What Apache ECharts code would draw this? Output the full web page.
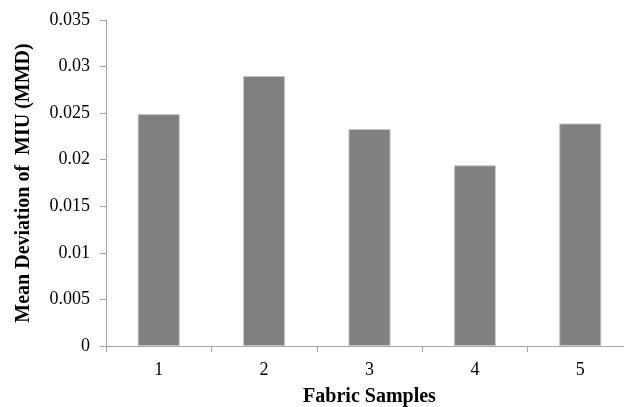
<!DOCTYPE html>
<html><head><meta charset="utf-8">
<script src="https://cdn.jsdelivr.net/npm/echarts@6/dist/echarts.min.js"></script>
<style>html,body{margin:0;padding:0;background:#fff}#c{width:624px;height:407px}</style>
</head><body><div id="c"></div>
<script>
const categories = ['1', '2', '3', '4', '5'];
const values = [0.0249, 0.0290, 0.0233, 0.0194, 0.0239];
const xTitle = 'Fabric Samples';
const yTitle = 'Mean Deviation of  MIU (MMD)';

const font = 'Liberation Serif, Times New Roman, serif';
const chart = echarts.init(document.getElementById('c'), null, {renderer: 'canvas'});
chart.setOption({
  animation: false,
  backgroundColor: '#ffffff',
  grid: {left: 106, top: 20, width: 527, height: 326, containLabel: false, outerBoundsMode: 'none'},
  xAxis: {
    type: 'category', data: categories, boundaryGap: true,
    axisLine: {lineStyle: {color: '#a6a6a6', width: 1}},
    axisTick: {show: true, length: 6, lineStyle: {color: '#a6a6a6'}},
    axisLabel: {color: '#000', fontFamily: font, fontSize: 18, margin: 15},
    name: xTitle, nameLocation: 'middle', nameGap: 41,
    nameTextStyle: {color: '#000', fontFamily: font, fontSize: 20, fontWeight: 'bold'}
  },
  yAxis: {
    type: 'value', min: 0, max: 0.035, interval: 0.005,
    splitLine: {show: false},
    axisLine: {show: true, lineStyle: {color: '#a6a6a6', width: 1}},
    axisTick: {show: true, length: 6, lineStyle: {color: '#a6a6a6'}},
    axisLabel: {color: '#000', fontFamily: font, fontSize: 18, margin: 16},
    name: yTitle, nameLocation: 'middle', nameGap: 72, nameRotate: 90,
    nameTextStyle: {color: '#000', fontFamily: font, fontSize: 20, fontWeight: 'bold'}
  },
  series: [{
    type: 'bar', data: values, barWidth: '40%',
    itemStyle: {color: '#808080', borderColor: '#c8c8c8', borderWidth: 1}
  }]
});
</script></body></html>
